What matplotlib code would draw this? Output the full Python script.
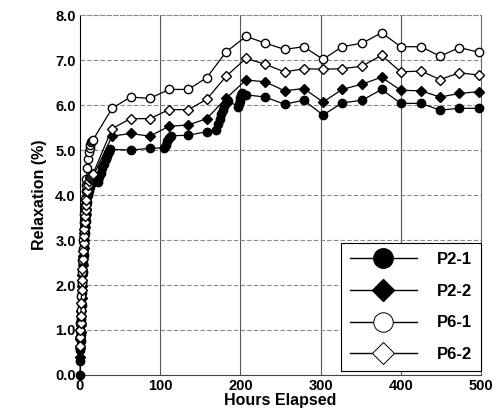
import matplotlib
matplotlib.use('Agg')
import matplotlib.pyplot as plt
from matplotlib.lines import Line2D

# shared sampling times (hours): dense early readings, then ~daily
t_early = [0, 0.25, 0.5, 0.75, 1, 1.5, 2, 2.5, 3, 3.5, 4, 4.5, 5, 5.5, 6, 6.5, 7, 7.5, 8,
           9, 10, 11, 12, 13, 14, 15, 16]
t_late = [40, 63, 87, 111, 135, 158, 182, 207, 231, 255, 279, 303, 327, 352, 376, 400, 425, 449, 473, 497]

p61_early = [0.85, 1.0, 1.15, 1.3, 1.45, 1.75, 2.05, 2.3, 2.55, 2.8, 3.0, 3.2, 3.4, 3.58, 3.75, 3.92,
             4.08, 4.22, 4.36, 4.6, 4.8, 4.95, 5.05, 5.12, 5.17, 5.2, 5.22]
p61_late = [5.93, 6.18, 6.15, 6.35, 6.35, 6.61, 7.18, 7.53, 7.38, 7.24, 7.30, 7.02, 7.30, 7.38, 7.61,
            7.30, 7.30, 7.09, 7.28, 7.18]

p62_early = [0.65, 0.85, 1.0, 1.15, 1.3, 1.6, 1.88, 2.12, 2.35, 2.57, 2.76, 2.94, 3.1, 3.25, 3.4, 3.53,
             3.66, 3.78, 3.9, 4.08, 4.22, 4.31, 4.37, 4.41, 4.43, 4.45, 4.46]
p62_late = [5.48, 5.70, 5.70, 5.90, 5.90, 6.13, 6.64, 7.04, 6.91, 6.74, 6.81, 6.80, 6.81, 6.87, 7.11,
            6.74, 6.76, 6.57, 6.72, 6.67]

p22_early = [0.4, 0.6, 0.8, 0.95, 1.1, 1.42, 1.72, 1.98, 2.22, 2.44, 2.64, 2.82, 2.99, 3.15, 3.3, 3.44,
             3.57, 3.69, 3.8, 3.98, 4.13, 4.23, 4.3, 4.35, 4.38, 4.4, 4.41]
p22_late = [5.31, 5.37, 5.31, 5.53, 5.56, 5.70, 6.15, 6.56, 6.52, 6.32, 6.37, 6.07, 6.35, 6.47, 6.62,
            6.33, 6.32, 6.18, 6.26, 6.30]

# P2-1 was read more often around each step
p21_hours = [0, 0.25, 0.5, 0.75, 1, 1.5, 2, 2.5, 3, 3.5, 4, 4.5, 5, 5.5, 6, 6.5, 7, 7.5, 8,
             9, 10, 11, 12, 13, 14, 15, 16,
             22, 24, 26, 28, 30, 32, 34, 36, 38,
             63, 87,
             105, 107, 109, 111, 113,
             135, 158,
             170, 172, 174, 176, 178, 180, 182, 184,
             197, 198, 199, 200, 201, 202, 207,
             231, 255, 279, 303, 327, 352, 376, 400, 425, 449, 473, 497]
p21_vals = [0.0, 0.3, 0.55, 0.75, 0.92, 1.25, 1.55, 1.82, 2.06, 2.28, 2.48, 2.67, 2.85, 3.01, 3.16, 3.3,
            3.43, 3.55, 3.66, 3.85, 4.0, 4.1, 4.18, 4.24, 4.27, 4.29, 4.3,
            4.3, 4.4, 4.5, 4.6, 4.7, 4.8, 4.88, 4.95, 5.02,
            5.0, 5.04,
            5.05, 5.12, 5.2, 5.27, 5.32,
            5.33, 5.41,
            5.45, 5.57, 5.69, 5.8, 5.9, 5.98, 6.05, 6.1,
            5.97, 6.03, 6.1, 6.17, 6.22, 6.26, 6.23,
            6.18, 6.02, 6.11, 5.78, 6.05, 6.11, 6.35, 6.04, 6.04, 5.89, 5.93, 5.93]

labels = ['P2-1', 'P2-2', 'P6-1', 'P6-2']

plt.rcParams['font.family'] = ['Liberation Sans', 'DejaVu Sans']
plt.rcParams['font.weight'] = 'bold'

fig = plt.figure(figsize=(5, 4.12), dpi=100)
ax = fig.add_axes([0.16, 0.09, 0.802, 0.873])

ms = 6
ax.plot(p21_hours, p21_vals, color='black', lw=0.9, marker='o', ms=ms,
        mfc='black', mec='black', clip_on=False, zorder=3)
ax.plot(t_early + t_late, p22_early + p22_late, color='black', lw=0.9, marker='D', ms=ms - 1,
        mfc='black', mec='black', clip_on=False, zorder=3)
ax.plot(t_early + t_late, p61_early + p61_late, color='black', lw=0.9, marker='o', ms=ms,
        mfc='white', mec='black', mew=1.0, clip_on=False, zorder=3)
ax.plot(t_early + t_late, p62_early + p62_late, color='black', lw=0.9, marker='D', ms=ms - 1,
        mfc='white', mec='black', mew=1.0, clip_on=False, zorder=3)

ax.set_xlim(0, 500)
ax.set_ylim(0, 8)
ax.set_xticks([0, 100, 200, 300, 400, 500])
ax.set_yticks([0, 1, 2, 3, 4, 5, 6, 7, 8])
ax.set_yticklabels(['%.1f' % v for v in range(9)])
ax.tick_params(length=0, labelsize=10.5, pad=3)
for lbl in ax.get_xticklabels() + ax.get_yticklabels():
    lbl.set_fontweight('bold')

for x in [100, 200, 300, 400]:
    ax.axvline(x, color='#555555', lw=0.8, zorder=1)
for y in [1, 2, 3, 4, 5, 6, 7]:
    ax.axhline(y, color='#888888', lw=0.8, ls=(0, (4, 2)), zorder=1)

ax.spines['left'].set_color('black')
ax.spines['bottom'].set_color('#444444')
ax.spines['top'].set_color('#888888')
ax.spines['top'].set_linestyle((0, (4, 2)))
ax.spines['right'].set_color('#666666')
for s in ax.spines.values():
    s.set_linewidth(0.8)

ax.set_xlabel('Hours Elapsed', fontsize=11.5, fontweight='bold', labelpad=0)
ax.set_ylabel('Relaxation (%)', fontsize=11.5, fontweight='bold', labelpad=6)

handles = [
    Line2D([], [], color='black', lw=1, marker='o', ms=14, mfc='black', mec='black'),
    Line2D([], [], color='black', lw=1, marker='D', ms=11, mfc='black', mec='black'),
    Line2D([], [], color='black', lw=1, marker='o', ms=14, mfc='white', mec='black', mew=0.7),
    Line2D([], [], color='black', lw=1, marker='D', ms=11, mfc='white', mec='black', mew=0.7),
]
leg = ax.legend(handles, labels, loc='lower right', bbox_to_anchor=(1, 0.01), borderaxespad=0,
                fancybox=False, framealpha=1, edgecolor='black', handlelength=4.0,
                handletextpad=1.2, labelspacing=1.0, borderpad=0.55,
                prop={'size': 12, 'weight': 'bold'})
leg.get_frame().set_linewidth(0.8)
leg.set_zorder(5)

fig.savefig('out.png', dpi=100)
